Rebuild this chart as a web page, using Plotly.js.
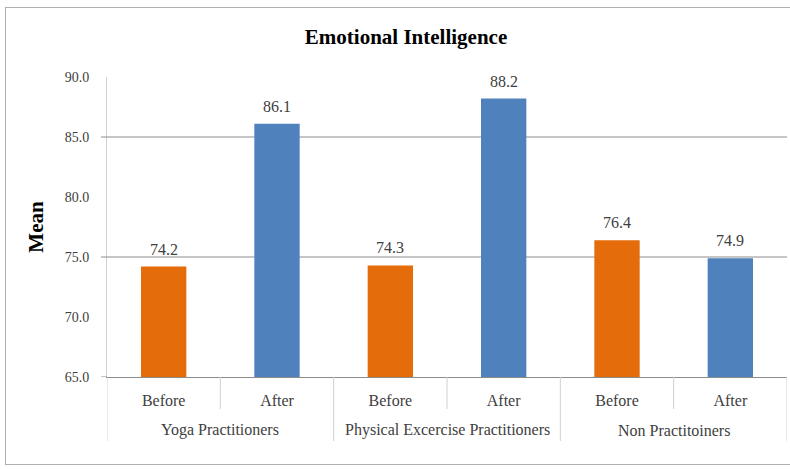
<!DOCTYPE html>
<html>
<head>
<meta charset="utf-8">
<script src="https://cdn.plot.ly/plotly-3.0.1.min.js"></script>
<style>
  html, body { margin: 0; padding: 0; background: #ffffff; }
  #wrap { position: relative; width: 790px; height: 469px; overflow: hidden; }
  #chart { width: 790px; height: 469px; }
  #frame { position: absolute; left: 5px; top: 7px; width: 800px; height: 458px;
           border: 1px solid #b0b0b0; pointer-events: none; box-sizing: border-box; }
</style>
</head>
<body>
<div id="wrap">
  <div id="chart"></div>
  <div id="frame"></div>
</div>
<script>
// ---- data ----
const groups = ["Yoga Practitioners", "Yoga Practitioners",
                "Physical Excercise Practitioners", "Physical Excercise Practitioners",
                "Non Practitoiners", "Non Practitoiners"];
const stages = ["Before", "After", "Before", "After", "Before", "After"];
const means = [74.2, 86.1, 74.3, 88.2, 76.4, 74.9];
const meanLabels = ["74.2", "86.1", "74.3", "88.2", "76.4", "74.9"];
const yTicks = [65, 70, 75, 80, 85, 90];
const yTickText = ["65.0", "70.0", "75.0", "80.0", "85.0", "90.0"];
const gridValues = [75, 85];
const majorTicks = [65, 75, 85];

// ---- styles ----
const stageColors = { "Before": "#E46C0A", "After": "#4F81BD" };
const serif = "Liberation Serif, Times New Roman, serif";
const textGray = "#404040";

const idx = stages.map((_, i) => i);

const trace = {
  type: "bar",
  x: idx,
  y: means,
  marker: { color: stages.map(s => stageColors[s]), line: { width: 0 } },
  width: 0.4,
  hoverinfo: "none",
  showlegend: false
};

// group spans derived from the groups array
const groupNames = [];
const groupStart = [];
const groupEnd = [];
groups.forEach((g, i) => {
  if (i === 0 || groups[i - 1] !== g) { groupNames.push(g); groupStart.push(i); groupEnd.push(i); }
  else { groupEnd[groupEnd.length - 1] = i; }
});

const shapes = [];
// horizontal gridlines
gridValues.forEach(v => shapes.push({
  type: "line", xref: "paper", yref: "y", x0: 0, x1: 1, y0: v, y1: v,
  line: { color: "#8c8c8c", width: 1 }, layer: "below"
}));
// y major tick marks
majorTicks.forEach(v => shapes.push({
  type: "line", xref: "paper", yref: "y", xsizemode: "pixel", xanchor: 0,
  x0: -6, x1: 0, y0: v, y1: v, line: { color: "#8c8c8c", width: 1 }
}));
// separators between stages inside a group
for (let i = 0; i < stages.length - 1; i++) {
  if (groups[i] === groups[i + 1]) {
    shapes.push({
      type: "line", xref: "x", yref: "paper", ysizemode: "pixel", yanchor: 0,
      x0: i + 0.5, x1: i + 0.5, y0: 0, y1: -32, line: { color: "#d0d0d0", width: 1 }
    });
  }
}
// group dividers (including both ends)
const dividerPos = [groupStart[0] - 0.5].concat(groupEnd.map(e => e + 0.5));
dividerPos.forEach(p => shapes.push({
  type: "line", xref: "x", yref: "paper", ysizemode: "pixel", yanchor: 0,
  x0: p, x1: p, y0: 0, y1: -64, line: { color: "#d0d0d0", width: 1 }
}));

const annotations = [];
// value labels above bars
idx.forEach(i => annotations.push({
  x: i, y: means[i], xref: "x", yref: "y", text: meanLabels[i], showarrow: false,
  yanchor: "bottom", yshift: 7, font: { family: serif, size: 16, color: textGray }
}));
// group labels
groupNames.forEach((g, k) => annotations.push({
  x: (groupStart[k] + groupEnd[k]) / 2, y: 0, xref: "x", yref: "paper", text: g,
  showarrow: false, yanchor: "middle", yshift: -53,
  font: { family: serif, size: 16, color: textGray }
}));

const layout = {
  width: 790, height: 469,
  margin: { l: 107, r: 3, t: 77, b: 92 },
  paper_bgcolor: "#ffffff",
  plot_bgcolor: "#ffffff",
  title: { text: "<b>Emotional Intelligence</b>", x: 0.514, xanchor: "center", y: 0.922, yanchor: "middle",
           font: { family: serif, size: 21, color: "#000000" } },
  font: { family: serif, color: textGray },
  xaxis: {
    range: [-0.5, stages.length - 0.5],
    tickmode: "array", tickvals: idx, ticktext: stages,
    ticks: "", ticklabelstandoff: 9,
    showline: true, linecolor: "#8c8c8c", linewidth: 1,
    tickfont: { family: serif, size: 16, color: textGray },
    showgrid: false, zeroline: false, fixedrange: true
  },
  yaxis: {
    range: [65, 90],
    tickmode: "array", tickvals: yTicks, ticktext: yTickText,
    ticks: "", showgrid: false, zeroline: false,
    showline: true, linecolor: "#d0d0d0", linewidth: 1,
    ticklabelstandoff: 14,
    tickfont: { family: serif, size: 14, color: textGray },
    title: { text: "<b>Mean</b>", font: { family: serif, size: 21, color: "#000000" }, standoff: 15 },
    fixedrange: true
  },
  shapes: shapes,
  annotations: annotations
};

Plotly.newPlot("chart", [trace], layout, { staticPlot: true, displayModeBar: false });
</script>
</body>
</html>
